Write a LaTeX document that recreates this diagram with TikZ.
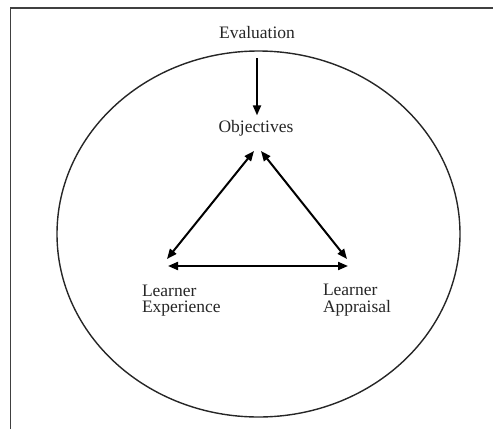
\documentclass[tikz,border=0pt]{standalone}
\usepackage{fontspec}
\setmainfont{Liberation Serif}
\usetikzlibrary{arrows.meta}
\begin{document}
\begin{tikzpicture}[x=1pt,y=-1pt,
  lbl/.style={inner sep=0pt, outer sep=0pt, font=\fontsize{17.5}{16.5}\selectfont, text=black!85},
  arr/.style={line width=2pt, -{Triangle[length=10pt,width=8pt]}},
  dbl/.style={line width=2pt, {Triangle[length=10pt,width=8pt]}-{Triangle[length=10pt,width=8pt]}}]
\useasboundingbox (0,0) rectangle (493,429);
% frame
\draw[line width=1.3pt, black!75] (10.7,429) -- (10.7,8) -- (493,8);
% ellipse
\draw[line width=1.4pt, black!85] (258.5,234) ellipse [x radius=201.5, y radius=183];
% texts
\node[lbl, anchor=base] (eval) at (257,38) {Evaluation};
\node[lbl, anchor=base] (obj) at (256,132) {Objectives};
\node[lbl, anchor=base west, align=left] (exp) at (142,312.5) {Learner\\Experience};
\node[lbl, anchor=base west, align=left] (app) at (323,312) {Learner\\Appraisal};
% arrow from evaluation to objectives
\draw[arr, shorten <=20pt, shorten >=4.5pt] (eval.south) -- (eval.south |- obj.north);
% triangle endpoints
\coordinate (oL) at (254,151);
\coordinate (oR) at (261,151);
\coordinate (eT) at (167,259);
\coordinate (eR) at (168,266);
\coordinate (aT) at (347,259);
\coordinate (aL) at (348,266);
\draw[dbl] (oL) -- (eT);
\draw[dbl] (oR) -- (aT);
\draw[dbl] (eR) -- (aL);
\end{tikzpicture}
\end{document}
